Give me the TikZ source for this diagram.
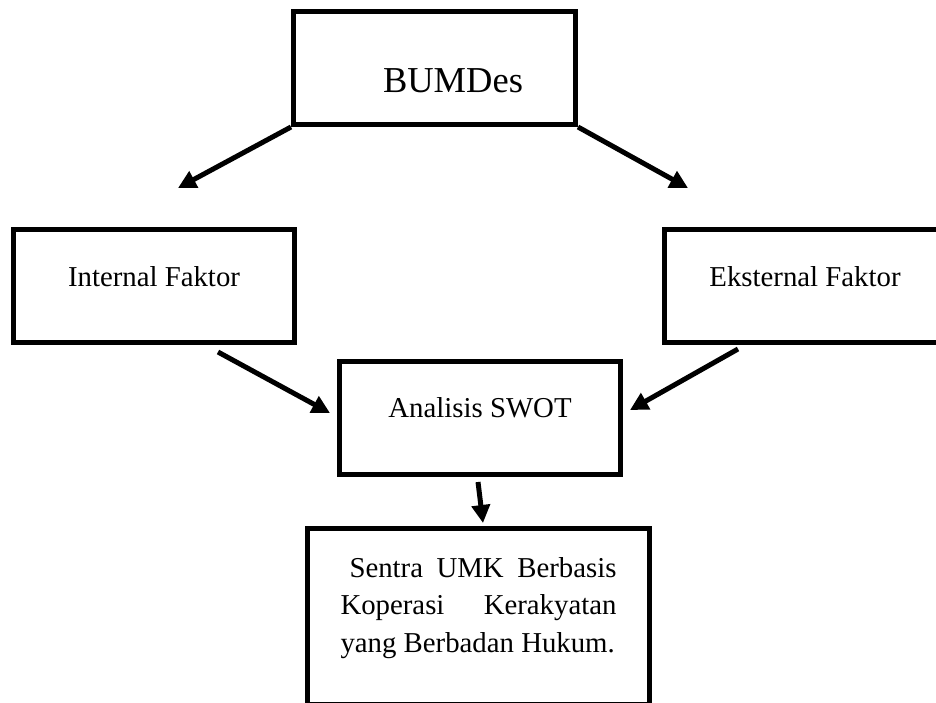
\documentclass[tikz,border=0pt]{standalone}
\usepackage{fontspec}
\setmainfont{Liberation Serif}
\usetikzlibrary{positioning, arrows.meta}

\begin{document}
\begin{tikzpicture}[x=1pt, y=-1pt,
	box/.style={draw, line width=5pt, minimum width=281pt, minimum height=113pt, inner sep=0pt},
	txt/.style={inner sep=0pt, font=\fontsize{28.8pt}{37.5pt}\selectfont},
	arr/.style={line width=5pt, -{Triangle[length=18pt, width=18pt]}}]
	\useasboundingbox (0,0) rectangle (936,702);
	\clip (0,0) rectangle (936,702);

	\node[box, minimum width=282pt] (bumdes) at (434.5,68) {};
	\node[box] (internal) at (154,286) {};
	\node[box, right=365pt of internal] (eksternal) {};
	\node[box] (swot) at (480,418) {};
	\node[box, minimum width=342pt, minimum height=176pt, below=49pt of swot, xshift=-1.5pt] (sentra) {};

	\node[txt, font=\fontsize{36.5pt}{40pt}\selectfont, xshift=18.5pt, yshift=-13pt] (bumdesLbl) at (bumdes.center) {BUMDes};
	\node[txt, yshift=9pt] (internalLbl) at (internal.center) {Internal Faktor};
	\node[txt, yshift=9pt] (eksternalLbl) at (eksternal.center) {Eksternal Faktor};
	\node[txt, yshift=10pt] (swotLbl) at (swot.center) {Analisis SWOT};
	\node[txt, text width=276pt, align=justify, yshift=8.5pt] (sentraLbl) at (sentra.center)
		{\hspace*{9pt}Sentra UMK Berbasis\linebreak Koperasi Kerakyatan\linebreak yang Berbadan Hukum.};

	\coordinate (tipI) at (178,188);
	\coordinate (tipE) at (688,188);
	\draw[arr] (bumdes.south west) -- (tipI);
	\draw[arr] (bumdes.south east) -- (tipE);
	\draw[arr] ([xshift=64pt, yshift=-7pt]internal.south) -- ([xshift=-7pt, yshift=5pt]swot.west);
	\draw[arr] ([xshift=-67pt, yshift=-4pt]eksternal.south) -- ([xshift=7pt, yshift=8pt]swot.east);
	\draw[arr] ([xshift=-2pt, yshift=-5pt]swot.south) -- ([xshift=4.5pt, yshift=3pt]sentra.north);
\end{tikzpicture}
\end{document}
